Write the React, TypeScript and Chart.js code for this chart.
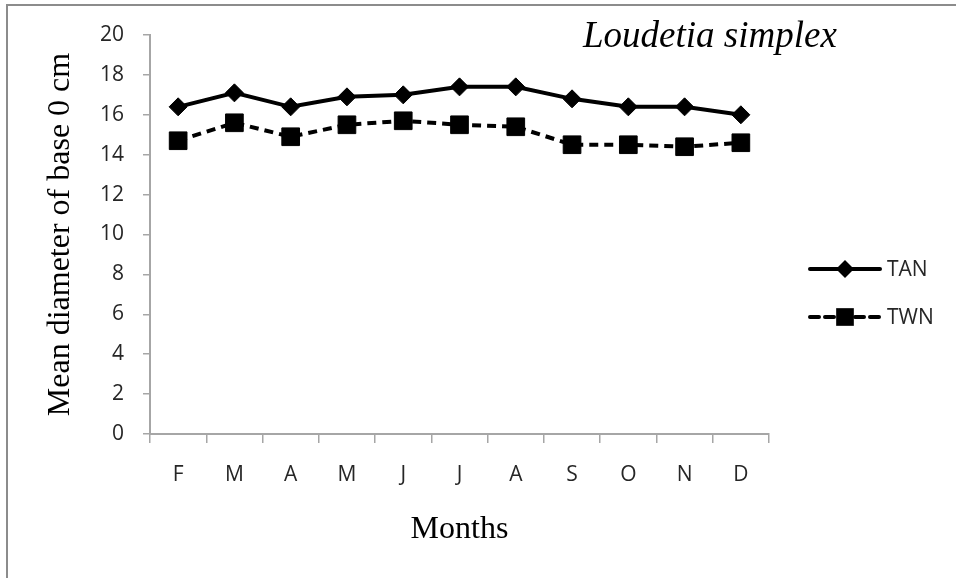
import React, { useEffect, useRef } from "react";
import { Chart, registerables } from "chart.js";

Chart.register(...registerables);

const months = ["F", "M", "A", "M", "J", "J", "A", "S", "O", "N", "D"];
const tanValues = [16.4, 17.1, 16.4, 16.9, 17.0, 17.4, 17.4, 16.8, 16.4, 16.4, 16.0];
const twnValues = [14.7, 15.6, 14.9, 15.5, 15.7, 15.5, 15.4, 14.5, 14.5, 14.4, 14.6];
const seriesNames = ["TAN", "TWN"];
const yMin = 0;
const yMax = 20;
const yStep = 2;
const chartTitle = "Loudetia simplex";
const yAxisTitle = "Mean diameter of base 0 cm";
const xAxisTitle = "Months";

const SANS = "'Open Sans', 'Liberation Sans', sans-serif";
const SERIF = "'Liberation Serif', 'DejaVu Serif', serif";
const AXIS_GRAY = "#a6a6a6";

const framePlugin = {
  id: "frame",
  beforeDraw(chart: any) {
    const ctx = chart.ctx;
    ctx.save();
    ctx.fillStyle = "#ffffff";
    ctx.fillRect(0, 0, chart.width, chart.height);
    ctx.strokeStyle = "#8c8c8c";
    ctx.lineWidth = 2;
    ctx.beginPath();
    ctx.moveTo(6, 5);
    ctx.lineTo(chart.width, 5);
    ctx.moveTo(7, 4);
    ctx.lineTo(7, chart.height);
    ctx.stroke();
    ctx.restore();
  },
  afterDraw(chart: any) {
    const ctx = chart.ctx;
    ctx.save();
    ctx.fillStyle = "#000000";
    ctx.font = `italic 37px ${SERIF}`;
    ctx.textAlign = "left";
    ctx.textBaseline = "alphabetic";
    ctx.fillText(chartTitle, 583, 47);
    ctx.restore();
  },
};

const legendPlugin = {
  id: "sideLegend",
  afterDraw(chart: any) {
    const ctx = chart.ctx;
    const x0 = 810;
    const x1 = 880;
    const ys = [269, 317];
    chart.data.datasets.forEach((ds: any, i: number) => {
      const y = ys[i];
      const cx = (x0 + x1) / 2;
      ctx.save();
      ctx.strokeStyle = ds.borderColor;
      ctx.lineWidth = ds.borderWidth;
      ctx.lineCap = "round";
      ctx.setLineDash(ds.borderDash || []);
      ctx.beginPath();
      ctx.moveTo(x0, y);
      ctx.lineTo(x1, y);
      ctx.stroke();
      ctx.setLineDash([]);
      ctx.fillStyle = ds.pointBackgroundColor;
      const r = ds.pointRadius;
      ctx.beginPath();
      if (ds.pointStyle === "rectRot") {
        ctx.moveTo(cx - r, y);
        ctx.lineTo(cx, y - r);
        ctx.lineTo(cx + r, y);
        ctx.lineTo(cx, y + r);
        ctx.closePath();
      } else {
        const s = r * Math.SQRT1_2;
        ctx.rect(cx - s, y - s, 2 * s, 2 * s);
      }
      ctx.fill();
      ctx.fillStyle = "#262626";
      ctx.font = `21px ${SANS}`;
      ctx.textAlign = "left";
      ctx.textBaseline = "middle";
      ctx.fillText(ds.label, 887, y + 1);
      ctx.restore();
    });
  },
};

export default function App() {
  const canvasRef = useRef<HTMLCanvasElement | null>(null);

  useEffect(() => {
    document.body.style.margin = "0";
    const canvas = canvasRef.current;
    if (!canvas) return;
    const chart = new Chart(canvas, {
      type: "line",
      data: {
        labels: months,
        datasets: [
          {
            label: seriesNames[0],
            data: tanValues,
            borderColor: "#000000",
            borderWidth: 4,
            pointStyle: "rectRot",
            pointRadius: 9,
            pointBackgroundColor: "#000000",
            pointBorderColor: "#000000",
            pointBorderWidth: 1,
            tension: 0,
          },
          {
            label: seriesNames[1],
            data: twnValues,
            borderColor: "#000000",
            borderWidth: 4,
            borderDash: [9, 6],
            pointStyle: "rect",
            pointRadius: 12.5,
            pointBackgroundColor: "#000000",
            pointBorderColor: "#000000",
            pointBorderWidth: 1,
            tension: 0,
          },
        ],
      },
      options: {
        responsive: false,
        animation: false,
        devicePixelRatio: 1,
        layout: { padding: { left: 0, top: 35, right: 187, bottom: 0 } },
        plugins: {
          legend: { display: false },
          tooltip: { enabled: false },
          title: { display: false },
        },
        scales: {
          x: {
            type: "category",
            offset: true,
            grid: {
              offset: true,
              drawOnChartArea: false,
              drawTicks: true,
              tickLength: 9,
              color: AXIS_GRAY,
              lineWidth: 1.5,
            },
            border: { display: true, color: AXIS_GRAY, width: 2 },
            ticks: {
              color: "#262626",
              font: { family: SANS, size: 21 },
              padding: 19,
              maxRotation: 0,
              autoSkip: false,
            },
            title: {
              display: true,
              text: xAxisTitle,
              color: "#000000",
              font: { family: SERIF, size: 32 },
              padding: { top: 0, bottom: 29 },
            },
            afterFit: (s: any) => {
              s.height = 144;
            },
          },
          y: {
            min: yMin,
            max: yMax,
            grid: {
              drawOnChartArea: false,
              drawTicks: true,
              tickLength: 7,
              color: AXIS_GRAY,
              lineWidth: 1.5,
            },
            border: { display: true, color: AXIS_GRAY, width: 2 },
            ticks: {
              stepSize: yStep,
              color: "#262626",
              font: { family: SANS, size: 21 },
              padding: 19,
            },
            title: {
              display: true,
              text: yAxisTitle,
              color: "#000000",
              font: { family: SERIF, size: 32 },
              padding: { top: 41, bottom: 0 },
            },
            afterFit: (s: any) => {
              s.width = 150;
            },
          },
        },
      },
      plugins: [framePlugin, legendPlugin],
    });
    return () => chart.destroy();
  }, []);

  return (
    <div style={{ width: 956, height: 578 }}>
      <canvas ref={canvasRef} width={956} height={578} style={{ display: "block" }} />
    </div>
  );
}
